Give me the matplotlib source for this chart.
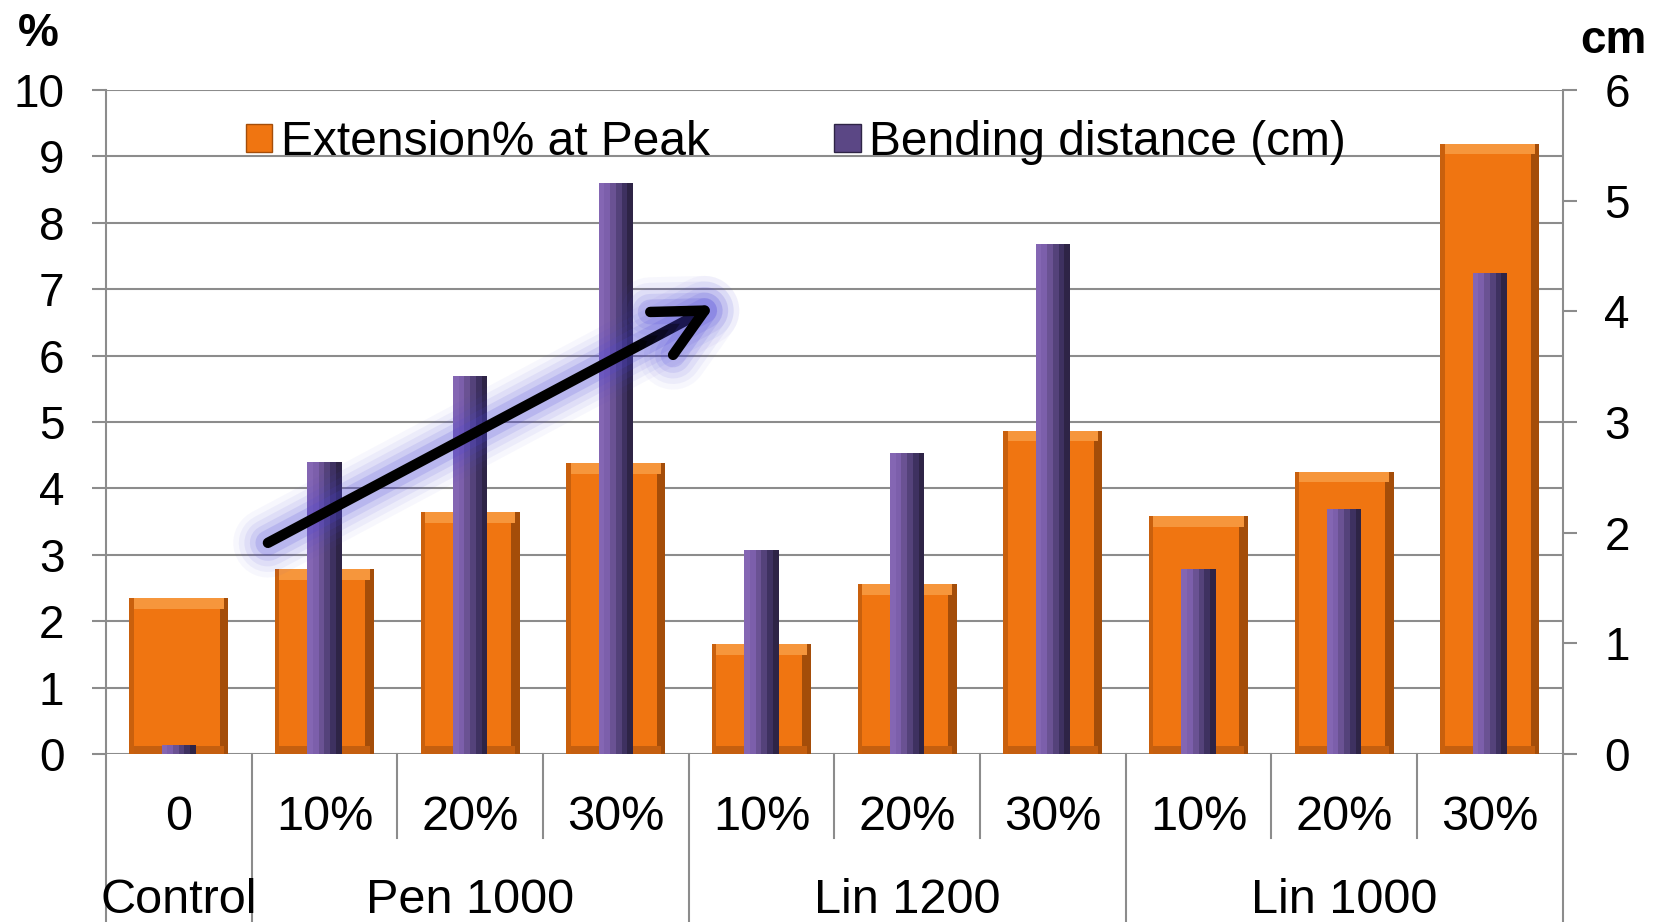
import matplotlib.pyplot as plt
import matplotlib.patheffects as pe
from matplotlib.patches import Patch
import numpy as np

plt.rcParams['font.family'] = ['Liberation Sans', 'DejaVu Sans']

# data
levels = ['0', '10%', '20%', '30%', '10%', '20%', '30%', '10%', '20%', '30%']
groups = ['Control', 'Pen 1000', 'Lin 1200', 'Lin 1000']
group_centers = [0, 2, 5, 8]
group_edges = [-0.5, 0.5, 3.5, 6.5, 9.5]
extension = [2.35, 2.78, 3.64, 4.38, 1.65, 2.56, 4.87, 3.58, 4.25, 9.19]
bending = [0.08, 2.64, 3.42, 5.16, 1.84, 2.72, 4.61, 1.67, 2.21, 4.35]

grey = '#8c8c8c'
orange = '#f07511'
fs = 33
fs_lab = 35

fig = plt.figure(figsize=(16.63, 9.22), dpi=100)
ax = fig.add_axes([0.0637, 0.1822, 0.876, 0.7202])
ax2 = ax.twinx()

x = np.arange(len(levels))
w_o = 0.68
w_p = 0.235

# orange bars with simple bevel
ax.bar(x, extension, width=w_o, color=orange, zorder=2)
ax.bar(x + w_o / 2 - 0.03, extension, width=0.06, color='#a44d09', zorder=3)
ax.bar(x - w_o / 2 + 0.015, extension, width=0.03, color='#c9600d', zorder=3)
ext = np.array(extension)
ax.bar(x, np.full_like(ext, 0.16), bottom=ext - 0.16, width=w_o - 0.06,
       color='#f6963c', zorder=3)
ax.bar(x, np.full_like(ext, 0.12), width=w_o - 0.06, color='#c55f0f', zorder=3)

# purple bars with left-to-right shading
pcols = ['#8466b3', '#7c5fab', '#6a5293', '#54427a', '#3e3160', '#2e2446']
n = len(pcols)
sw = w_p / n
for i, c in enumerate(pcols):
    ax2.bar(x - w_p / 2 + sw * (i + 0.5), bending, width=sw, color=c,
            linewidth=0, zorder=2)

ax.set_xlim(-0.5, 9.5)
ax.set_ylim(0, 10)
ax2.set_ylim(0, 6)
ax.set_yticks(range(0, 11))
ax2.set_yticks(range(0, 7))

ax.grid(axis='y', color=grey, linewidth=1.5, zorder=0)
ax.set_axisbelow(True)
for a in (ax, ax2):
    for s in a.spines.values():
        s.set_visible(False)
ax.spines['left'].set_visible(True)
ax.spines['left'].set_color(grey)
ax.spines['left'].set_linewidth(1.5)
ax2.spines['right'].set_visible(True)
ax2.spines['right'].set_color(grey)
ax2.spines['right'].set_linewidth(1.5)
ax.tick_params(axis='y', length=10, width=1.5, color=grey, labelsize=fs, pad=20)
ax2.tick_params(axis='y', length=10, width=1.5, color=grey, labelsize=fs, pad=20)
ax.set_xticks([])

# two-level category axis
trans = ax.get_xaxis_transform()
for xi, lab in zip(x, levels):
    ax.text(xi, -0.096, lab, transform=trans, ha='center', va='center', fontsize=fs_lab)
for xi, lab in zip(group_centers, groups):
    ax.text(xi, -0.221, lab, transform=trans, ha='center', va='center', fontsize=fs_lab)
for b in np.arange(-0.5, 10, 1.0):
    bottom = -0.26 if b in group_edges else -0.127
    ax.plot([b, b], [0, bottom], transform=trans, color=grey, lw=1.5, clip_on=False)

# axis unit labels
fig.text(0.023, 0.963, '%', fontsize=fs, fontweight='bold', ha='center', va='center')
fig.text(0.970, 0.955, 'cm', fontsize=fs, fontweight='bold', ha='center', va='center')

# trend arrow with glow
start = (0.612, 3.18)
end = (3.68, 6.76)
glow = [pe.Stroke(linewidth=lw, foreground='#4b44d8', alpha=al,
                  capstyle='round', joinstyle='round')
        for lw, al in [(50, 0.04), (42, 0.06), (34, 0.08), (26, 0.11), (18, 0.16)]]
ax2.annotate('', xy=end, xytext=start, xycoords=ax.transData,
             textcoords=ax.transData,
             arrowprops=dict(arrowstyle='->,head_length=1.0,head_width=0.5',
                             mutation_scale=35, lw=7.5, color='black',
                             shrinkA=0, shrinkB=0,
                             path_effects=glow + [pe.Normal()]))

handles = [Patch(facecolor=orange, edgecolor='#a44d09'),
           Patch(facecolor='#5b4785', edgecolor='#2e2446')]
ax2.legend(handles, ['Extension% at Peak', 'Bending distance (cm)'],
           loc='center', bbox_to_anchor=(0.4736, 0.921), ncol=2, frameon=False,
           fontsize=34.5, handlelength=0.55, handleheight=0.55,
           handletextpad=0.18, columnspacing=2.6)

fig.savefig('out.png', dpi=100)
